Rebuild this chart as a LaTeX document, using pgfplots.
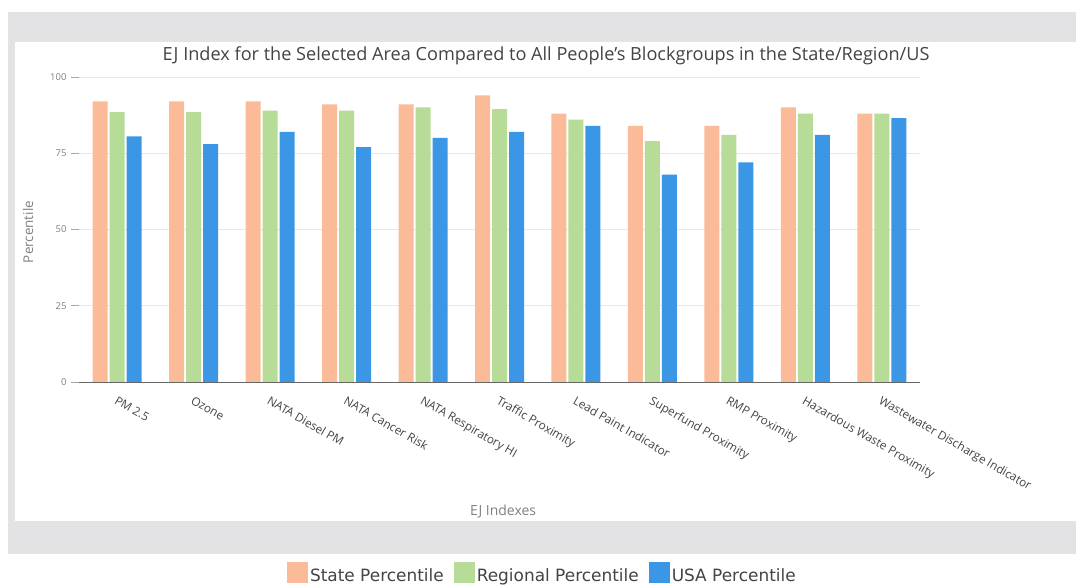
\documentclass[border=0pt]{standalone}
\usepackage{pgfplots}
\pgfplotsset{compat=1.18}
\usepackage{fontspec}
\setmainfont{Open Sans}
\newfontfamily\legfont{DejaVu Sans}
\definecolor{cState}{HTML}{FBBB99}
\definecolor{cReg}{HTML}{B6DC97}
\definecolor{cUSA}{HTML}{3B97E6}
\definecolor{bandgray}{HTML}{E3E3E6}
\definecolor{txt}{HTML}{444444}
\begin{document}
\begin{tikzpicture}[x=1bp,y=1bp]
\path[use as bounding box] (0,0) rectangle (1076,586);
\fill[white] (0,0) rectangle (1076,586);
\fill[bandgray] (8,32) rectangle (1076,574);
\fill[white] (15,65) rectangle (1076,544);
\node[text=txt, font=\fontsize{18.2}{20}\selectfont] at (546,530) {EJ Index for the Selected Area Compared to All People's Blockgroups in the State/Region/US};
\node[text=gray, rotate=90, font=\fontsize{13.5}{15}\selectfont] at (28,354) {Percentile};
\node[text=gray, font=\fontsize{14}{16}\selectfont] at (503,74) {EJ Indexes};
\begin{axis}[
  at={(79bp,204bp)}, anchor=south west,
  scale only axis, width=841bp, height=305bp,
  xmin=-0.5, xmax=10.5, ymin=0, ymax=100,
  axis x line=bottom, axis y line=left,
  x axis line style={-, draw=gray!80!black, line width=0.8bp},
  y axis line style={draw=none},
  ytick={0,25,50,75,100},
  ymajorgrids, grid style={gray!18, line width=0.6bp},
  tick align=outside, major tick length=8bp,
  y tick style={gray!70, line width=0.6bp},
  x tick style={draw=none},
  /pgf/number format/assume math mode=true,
  yticklabel style={text=gray, font=\fontsize{9.5}{10}\selectfont, xshift=-1bp},
  xtick={0,...,10},
  xticklabels={PM 2.5, Ozone, NATA Diesel PM, NATA Cancer Risk, NATA Respiratory HI, Traffic Proximity, Lead Paint Indicator, Superfund Proximity, RMP Proximity, Hazardous Waste Proximity, Wastewater Discharge Indicator},
  xticklabel style={rotate=-30, anchor=north west, text=txt, font=\fontsize{11.8}{13}\selectfont, xshift=0bp, yshift=-1bp},
  ybar=2bp, bar width=15bp,
  legend columns=3,
  legend style={at={(0.551,-0.628)}, anchor=center, draw=none, fill=none,
    font=\legfont\fontsize{17}{18}\selectfont, text=txt,
    /tikz/every even column/.append style={column sep=8bp}},
  legend image code/.code={\fill[#1] (0bp,-8bp) rectangle (21bp,13bp);},
]
\addplot[fill=cState, draw=none] coordinates {(0,92) (1,92) (2,92) (3,91) (4,91) (5,94) (6,88) (7,84) (8,84) (9,90) (10,88)};
\addplot[fill=cReg, draw=none] coordinates {(0,88.5) (1,88.5) (2,89) (3,89) (4,90) (5,89.5) (6,86) (7,79) (8,81) (9,88) (10,88)};
\addplot[fill=cUSA, draw=none] coordinates {(0,80.5) (1,78) (2,82) (3,77) (4,80) (5,82) (6,84) (7,68) (8,72) (9,81) (10,86.5)};
\legend{State Percentile, Regional Percentile, USA Percentile}
\end{axis}
\end{tikzpicture}
\end{document}
